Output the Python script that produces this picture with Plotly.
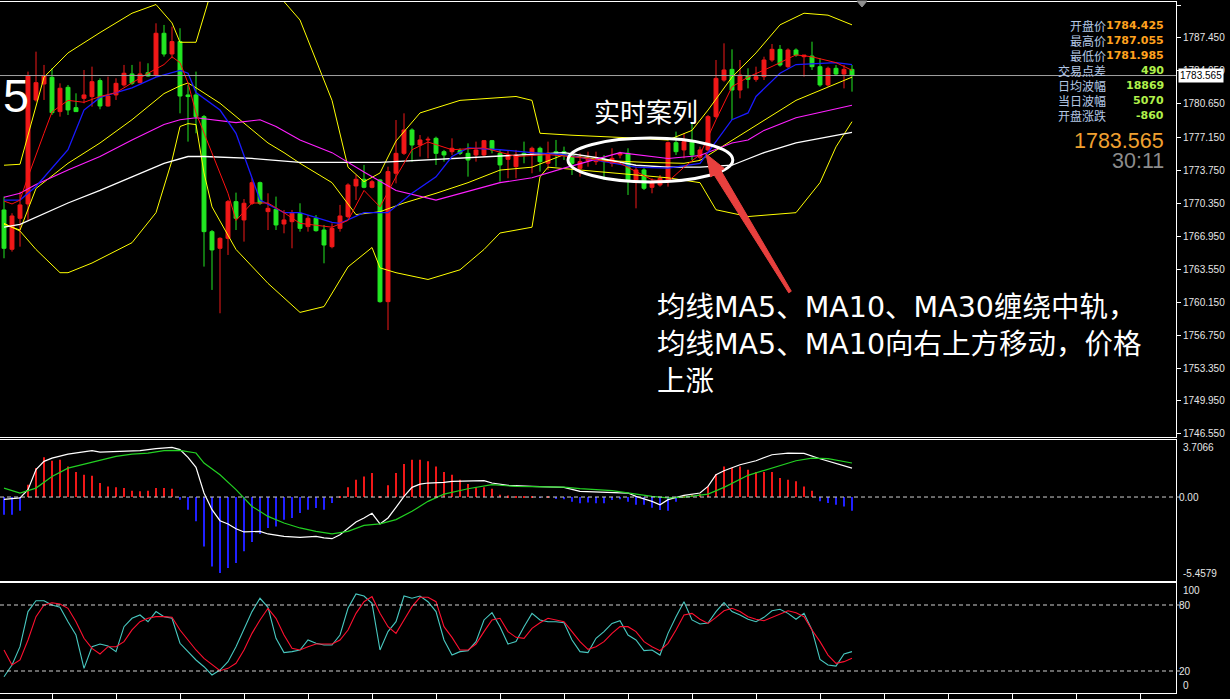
import plotly.graph_objects as go

# ---------------- DATA ----------------
open_ = [1769.68,1765.62,1768.82,1770.30,1781.04,1782.69,1783.38,1779.84,1782.35,1780.25,
         1781.21,1781.39,1783.04,1780.42,1781.56,1782.59,1783.73,1782.83,1783.86,1783.62,
         1787.93,1785.79,1787.07,1781.56,1781.56,1779.32,1767.44,1765.72,1766.75,1770.54,
         1768.65,1770.37,1772.50,1769.51,1769.75,1768.23,1768.47,1769.33,1767.96,1768.82,
         1767.61,1765.89,1767.78,1768.99,1772.16,1772.85,1772.02,1772.78,1760.21,1773.47,
         1775.53,1777.94,1776.39,1776.91,1777.08,1775.70,1775.70,1775.81,1775.53,1775.36,
         1775.36,1776.84,1775.53,1774.91,1774.15,1775.53,1775.53,1776.05,1774.50,1775.70,
         1775.70,1775.36,1773.98,1774.77,1774.67,1774.91,1774.50,1775.36,1775.53,1772.78,
         1773.81,1772.02,1772.26,1772.60,1776.63,1775.88,1776.74,1775.12,1775.88,1779.32,
         1783.10,1784.20,1782.07,1783.52,1783.17,1783.45,1785.17,1786.27,1784.48,1786.20,
         1785.51,1785.58,1784.48,1782.59,1784.31,1783.72,1784.20]
high = [1771.06,1769.34,1771.57,1783.97,1786.03,1784.66,1784.31,1782.76,1782.59,1781.73,
        1784.14,1784.48,1783.28,1783.45,1783.28,1784.66,1784.66,1785.00,1784.83,1788.96,
        1788.79,1788.62,1788.45,1782.59,1783.97,1779.49,1767.61,1766.86,1770.71,1771.47,
        1770.81,1772.95,1772.61,1771.40,1771.06,1769.68,1769.68,1770.37,1769.16,1769.16,
        1768.13,1768.30,1770.20,1772.43,1773.29,1774.33,1772.78,1772.85,1774.15,1778.97,
        1779.66,1778.11,1777.42,1777.25,1777.25,1775.88,1777.08,1776.05,1776.56,1776.74,
        1776.91,1776.91,1775.88,1775.88,1775.88,1776.74,1776.22,1776.22,1776.74,1776.91,
        1776.22,1775.70,1775.53,1775.70,1775.70,1775.36,1776.05,1775.70,1776.05,1774.15,
        1773.98,1772.95,1773.29,1776.74,1777.77,1777.60,1778.63,1776.22,1779.49,1785.17,
        1786.89,1786.27,1785.17,1784.31,1784.48,1785.51,1786.82,1786.72,1786.37,1786.37,
        1785.68,1787.06,1785.34,1784.48,1784.65,1784.65,1784.65]
low = [1764.69,1765.38,1765.89,1768.65,1780.87,1781.04,1779.49,1779.32,1779.49,1779.84,
       1780.70,1780.35,1780.08,1780.35,1781.04,1782.42,1782.59,1782.76,1783.45,1783.45,
       1785.52,1785.35,1779.66,1776.74,1777.60,1763.83,1761.42,1759.01,1765.03,1767.61,
       1766.41,1770.20,1770.20,1767.61,1767.61,1767.27,1765.72,1767.44,1767.44,1767.44,
       1764.17,1765.72,1767.44,1768.82,1770.71,1771.92,1771.92,1760.10,1757.28,1772.43,
       1775.36,1774.67,1775.19,1775.01,1774.33,1774.67,1775.36,1775.36,1773.12,1774.67,
       1775.19,1775.53,1772.60,1772.95,1772.95,1774.50,1773.47,1773.64,1773.81,1774.15,
       1774.84,1773.29,1773.12,1774.15,1774.33,1772.78,1774.15,1775.01,1771.23,1769.85,
       1771.74,1771.40,1772.09,1772.09,1775.36,1775.01,1774.84,1774.84,1775.70,1779.14,
       1782.93,1778.97,1781.21,1782.24,1782.93,1783.10,1784.98,1784.48,1784.31,1785.51,
       1783.45,1784.14,1782.41,1782.41,1783.62,1782.24,1781.90]
close = [1765.72,1769.06,1770.20,1783.52,1782.83,1783.52,1779.73,1782.25,1780.01,1779.84,
         1781.56,1782.93,1780.42,1781.45,1782.76,1783.80,1782.76,1783.73,1783.52,1787.93,
         1785.79,1787.07,1781.45,1781.39,1779.32,1767.44,1765.55,1766.75,1770.54,1768.82,
         1770.37,1772.50,1770.37,1769.85,1768.13,1768.65,1769.34,1767.78,1768.82,1767.54,
         1766.06,1767.78,1769.06,1772.26,1772.85,1772.02,1772.60,1760.21,1773.64,1775.53,
         1777.94,1776.39,1776.91,1776.98,1775.53,1775.36,1776.05,1775.53,1774.84,1775.88,
         1776.84,1775.88,1774.33,1775.36,1775.36,1775.36,1776.05,1774.67,1775.53,1775.53,
         1775.53,1774.50,1774.67,1775.01,1774.91,1774.67,1775.01,1775.53,1772.78,1773.81,
         1771.92,1772.60,1772.95,1776.63,1775.70,1776.74,1775.36,1775.88,1779.32,1783.27,
         1784.14,1782.07,1783.62,1783.17,1783.45,1785.17,1786.27,1784.65,1786.20,1785.68,
         1785.68,1784.48,1782.59,1784.31,1783.72,1784.20,1783.565]

ma5_i = [0,1,2,3,5,6,8,10,12,14,16,18,20,21,22,23,24,26,28,29,31,33,35,37,41,43,45,47,49,51,
         53,56,60,64,68,72,77,81,83,85,87,89,91,93,96,99,101,104,106]
ma5_v = [1770.6,1770.3,1770.7,1773.1,1777.6,1779.8,1781.0,1780.8,1781.4,1781.8,
         1782.8,1783.8,1784.7,1785.5,1784.9,1782.8,1779.7,1775.6,1771.4,1768.6,
         1770.4,1770.4,1769.4,1768.3,1767.9,1768.6,1771.7,1770.0,1773.1,1775.9,
         1776.7,1775.9,1776.1,1775.2,1775.4,1775.1,1774.5,1772.8,1772.6,1774.1,
         1775.4,1779.0,1782.4,1783.4,1784.5,1785.7,1785.5,1784.9,1784.1]
ma10_i = [0,2,4,8,10,12,16,19,22,23,24,27,29,31,32,35,37,41,42,45,48,51,54,56,58,62,66,70,74,79,
          83,87,91,93,94,97,99,104,106]
ma10_v = [1770.7,1770.7,1772.1,1775.9,1780.0,1781.3,1782.3,1783.4,1784.1,1783.8,
          1781.8,1780.0,1777.6,1773.1,1770.7,1769.4,1769.4,1768.4,1768.3,1769.4,
          1769.4,1771.4,1773.1,1775.2,1776.1,1775.9,1775.6,1775.4,1774.8,1774.1,
          1774.0,1774.5,1779.0,1779.7,1781.4,1783.8,1784.7,1784.9,1784.7]
ma30_i = [0,2,4,8,12,16,20,22,24,29,32,34,37,41,45,49,54,57,62,66,70,77,81,83,87,91,93,95,99,106]
ma30_v = [1771.0,1771.4,1772.3,1773.8,1775.2,1776.9,1778.5,1779.0,1779.2,1778.7,
          1779.0,1778.3,1776.9,1775.6,1773.6,1771.7,1770.7,1771.4,1772.5,1773.0,
          1774.0,1775.6,1775.2,1775.0,1775.3,1776.6,1776.9,1777.9,1779.2,1780.5]
ma60_i = [0,2,8,12,16,20,23,25,31,37,47,58,70,74,79,83,87,91,95,99,106]
ma60_v = [1767.9,1768.2,1770.4,1771.7,1773.1,1774.5,1775.2,1775.2,1775.0,1774.6,
          1774.6,1775.1,1775.6,1775.1,1774.3,1774.1,1774.1,1774.3,1775.6,1776.6,1777.7]
bb_up_i = [0,2,5,8,12,16,19,21,22,24,26,29,32,35,37,41,43,45,47,49,52,57,64,66,67,71,79,83,86,88,
           91,94,97,100,103,106]
bb_up_v = [1774.3,1774.4,1783.4,1785.9,1788.0,1790.0,1790.9,1789.0,1787.0,1787.0,
           1792.5,1795.0,1793.5,1791.2,1789.3,1781.0,1774.1,1772.6,1773.5,1776.8,
           1779.7,1781.0,1781.4,1781.0,1777.6,1777.4,1777.1,1776.9,1777.9,1780.0,
           1783.4,1785.9,1788.8,1790.0,1789.8,1788.8]
bb_mid_i = [0,2,4,8,12,16,20,22,23,24,27,29,31,33,35,37,41,44,47,50,54,58,62,66,70,75,80,85,87,93,
            99,106]
bb_mid_v = [1768.2,1767.6,1771.9,1774.5,1776.6,1779.0,1781.7,1782.5,1782.8,1782.3,
            1780.7,1779.3,1777.9,1776.6,1775.6,1774.5,1772.5,1769.2,1769.5,1770.4,
            1771.4,1772.5,1773.8,1774.1,1775.4,1774.8,1774.6,1774.5,1774.8,1777.9,
            1781.0,1783.4]
bb_low_i = [0,2,4,7,8,11,16,19,21,22,23,24,25,26,29,33,37,40,43,46,47,49,53,57,60,62,66,67,68,75,
            83,87,89,93,99,102,104,106]
bb_low_v = [1768.3,1767.5,1765.6,1763.2,1763.2,1764.2,1766.3,1769.4,1774.8,1778.3,
            1778.6,1778.5,1773.5,1770.0,1765.6,1762.1,1759.1,1759.7,1763.8,1765.8,
            1763.7,1763.2,1762.5,1763.5,1765.6,1767.3,1767.9,1773.1,1774.1,1773.6,
            1773.0,1772.5,1769.7,1769.0,1769.4,1772.5,1776.2,1778.8]

macd_hist = [-1.15,-1.15,-0.89,0.80,1.88,2.58,2.36,2.43,1.99,1.62,
             1.45,1.39,0.91,0.69,0.63,0.58,0.41,0.37,0.41,0.58,
             0.58,0.54,-0.17,-0.82,-1.58,-3.21,-4.51,-4.94,-4.61,-4.29,
             -3.53,-2.92,-2.40,-2.01,-1.91,-1.47,-1.36,-1.04,-0.82,-0.71,
             -0.82,-0.39,0.05,0.63,1.13,1.34,1.56,0.02,0.76,1.56,
             2.14,2.43,2.43,2.32,1.99,1.62,1.45,1.13,0.84,0.63,
             0.63,0.54,0.15,0.10,0.05,0.05,0.02,-0.05,0.02,-0.10,
             -0.15,-0.30,-0.40,-0.35,-0.40,-0.40,-0.20,-0.15,-0.30,-0.50,
             -0.50,-0.70,-0.85,-0.90,-0.30,0.10,0.15,0.20,0.69,1.49,
             1.99,1.88,1.99,1.78,1.62,1.62,1.62,1.23,1.13,1.02,
             0.69,0.41,-0.28,-0.39,-0.50,-0.61,-0.89]
dif_i = [0,2,3,4,5,6,8,11,12,15,17,19,21,22,23,24,25,26,27,28,29,30,32,33,35,37,39,40,41,42,
         43,44,45,46,47,48,49,50,51,52,53,55,56,58,60,61,63,66,70,72,75,78,79,81,82,83,85,87,88,89,
         90,92,94,96,98,100,102,104,106]
dif_v = [-0.15,-0.06,0.48,1.78,2.32,2.53,2.79,3.01,2.92,2.97,
         3.01,3.14,3.23,3.08,2.58,1.93,0.26,-0.82,-1.54,-1.75,
         -2.06,-2.27,-2.23,-2.40,-2.56,-2.62,-2.56,-2.66,-2.71,-2.45,
         -2.01,-1.62,-1.36,-1.06,-1.75,-1.36,-0.67,0.04,0.63,0.84,
         0.91,0.95,1.02,1.02,1.06,0.91,0.76,0.69,0.63,0.37,
         0.32,0.26,0.04,-0.28,-0.50,-0.17,0.11,0.26,0.69,1.45,
         1.71,2.10,2.36,2.75,2.86,2.84,2.49,2.21,1.88]
dea_i = [0,2,4,6,8,10,12,14,16,18,20,22,24,25,27,29,31,33,35,37,39,41,43,45,47,49,51,53,55,56,
         58,61,64,70,72,76,78,81,83,85,88,90,93,96,99,101,103,106]
dea_v = [0.58,0.26,0.58,1.34,1.88,2.14,2.43,2.64,2.79,2.86,
         3.01,3.03,2.86,2.21,1.45,0.48,-0.61,-1.26,-1.69,-2.01,
         -2.23,-2.40,-2.23,-1.84,-1.75,-1.47,-0.93,-0.28,0.19,0.32,
         0.54,0.80,0.69,0.65,0.54,0.41,0.26,0.04,-0.06,0.0,
         0.19,0.63,1.41,1.88,2.36,2.53,2.49,2.21]

stoch_k = [14.8,25.5,42.1,74.0,83.9,83.9,80.0,77.9,64.8,52.7,
           22.4,42.1,44.5,42.7,37.6,60.3,67.9,70.9,64.8,74.0,
           69.4,67.9,45.2,37.6,30.0,23.9,16.4,20.9,28.5,42.1,
           57.3,74.0,86.1,77.9,49.7,36.7,37.6,39.1,48.2,45.2,
           43.6,43.6,52.7,77.0,90.0,88.2,81.5,39.1,55.8,64.8,
           88.2,86.1,88.2,83.0,74.0,48.2,34.5,37.6,38.5,46.7,
           66.4,73.0,60.3,44.5,46.7,60.3,72.4,66.4,64.8,64.8,
           63.9,48.2,37.6,36.7,49.7,55.8,63.3,65.7,52.7,48.2,
           38.5,39.1,34.5,54.2,69.4,83.0,66.4,62.7,63.6,74.0,
           82.1,74.0,70.9,67.0,64.8,68.8,74.8,76.1,72.4,67.0,
           72.4,57.3,30.6,25.5,24.5,35.5,37.6]
stoch_d = [39.1,25.5,30.0,48.2,69.4,80.0,82.1,80.9,77.0,64.8,
           49.7,40.6,35.5,42.1,42.1,46.7,57.3,64.8,67.9,69.4,
           69.4,68.8,57.3,48.2,39.1,31.5,25.5,20.3,22.4,27.0,
           39.1,54.2,66.4,77.0,67.9,52.7,40.6,39.1,42.1,44.5,
           44.5,44.5,48.2,57.3,72.4,83.0,87.6,72.4,60.3,54.2,
           66.4,78.5,87.0,87.0,83.0,60.3,50.6,39.1,39.1,44.5,
           55.8,66.4,67.9,55.8,50.6,49.7,58.8,63.9,67.9,66.4,
           64.8,55.8,46.7,39.7,42.1,46.7,54.2,60.3,60.3,55.8,
           46.7,42.1,38.5,45.2,57.3,70.9,72.4,67.0,63.3,68.8,
           74.8,77.0,74.0,69.4,67.0,65.7,68.8,72.4,74.8,73.0,
           69.4,57.3,46.7,34.5,27.0,28.5,31.5]

price_ticks = [1790.850,1787.450,1784.050,1780.650,1777.150,1773.750,1770.350,
               1766.950,1763.550,1760.150,1756.750,1753.350,1749.950,1746.550]
price_tick_text = ["1790.850","1787.450","1784.050","1780.650","1777.150","1773.750","1770.350",
                   "1766.950","1763.550","1760.150","1756.750","1753.350","1749.950","1746.550"]
last_price = 1783.565
macd_top, macd_bottom = 3.7066, -5.4579

info_labels = ["开盘价","最高价","最低价","交易点差","日均波幅","当日波幅","开盘涨跌"]
info_values = ["1784.425","1787.055","1781.985","490","18869","5070","-860"]
big_price_text = "1783.565"
timer_text = "30:11"
title_tag = "实时案列"
note_text = "均线MA5、MA10、MA30缠绕中轨，<br>均线MA5、MA10向右上方移动，价格<br>上涨"

# ---------------- LAYOUT HELPERS ----------------
W, H = 1230, 699
ML, MR, MT, MB = 0, 54, 2, 6
PW, PH = W - ML - MR, H - MT - MB
def pxx(x):
    return (x - ML) / PW
def pxy(y):
    return (H - MB - y) / PH

RED = '#f01818'
GREEN = '#22e622'
CJK = 'Noto Sans CJK SC'

n = len(close)
xs = list(range(n))

fig = go.Figure()
fig.add_trace(go.Candlestick(
    x=xs, open=open_, high=high, low=low, close=close,
    increasing=dict(line=dict(color=RED, width=1), fillcolor=RED),
    decreasing=dict(line=dict(color=GREEN, width=1), fillcolor=GREEN),
    whiskerwidth=0, xaxis='x', yaxis='y', showlegend=False, hoverinfo='skip'))

def add_line(xv, yv, color, width, xa='x', ya='y'):
    fig.add_trace(go.Scatter(x=xv, y=yv, mode='lines', line=dict(color=color, width=width),
                             xaxis=xa, yaxis=ya, showlegend=False, hoverinfo='skip'))

add_line(bb_up_i, bb_up_v, '#ffff00', 1)
add_line(bb_mid_i, bb_mid_v, '#ffff00', 1)
add_line(bb_low_i, bb_low_v, '#ffff00', 1)
add_line(ma60_i, ma60_v, '#ffffff', 1.3)
add_line(ma30_i, ma30_v, '#ff20ff', 1.1)
add_line(ma10_i, ma10_v, '#1a1aff', 1.3)
add_line(ma5_i, ma5_v, '#ff1010', 1)

# MACD
fig.add_trace(go.Bar(x=xs, y=macd_hist, width=0.22,
                     marker=dict(color=[RED if v >= 0 else '#2020ff' for v in macd_hist], line=dict(width=0)),
                     xaxis='x2', yaxis='y2', showlegend=False, hoverinfo='skip'))
add_line(dif_i, dif_v, '#ffffff', 1.2, 'x2', 'y2')
add_line(dea_i, dea_v, '#22d022', 1.2, 'x2', 'y2')

# Stochastic
add_line(xs, stoch_k, '#48c8c0', 1.1, 'x3', 'y3')
add_line(xs, stoch_d, '#ff1030', 1.1, 'x3', 'y3')

axis_common = dict(showgrid=False, zeroline=False, showline=True, linecolor='#ffffff',
                   linewidth=1, mirror=True, range=[-0.5, 146.5], automargin=False)
yaxis_common = dict(showgrid=False, zeroline=False, showline=True, linecolor='#ffffff',
                    side='right', automargin=False)
tickfont = dict(family='Liberation Sans', size=10, color='#e6e6e6')

d_main = [pxy(437), 1.0]
d_macd = [pxy(581), pxy(440)]
d_sto = [0.0, pxy(583)]

fig.update_layout(
    width=W, height=H, margin=dict(l=ML, r=MR, t=MT, b=MB, autoexpand=False),
    paper_bgcolor='#000000', plot_bgcolor='#000000', showlegend=False,
    font=dict(family='Liberation Sans', color='#ffffff'),
    xaxis=dict(domain=[0, 1], anchor='y', showticklabels=False, ticks='',
               rangeslider=dict(visible=False), **axis_common),
    xaxis2=dict(domain=[0, 1], anchor='y2', matches='x', showticklabels=False, ticks='', **axis_common),
    xaxis3=dict(domain=[0, 1], anchor='y3', matches='x', showticklabels=False, ticks='outside',
                tickvals=list(range(6, 147, 8)), ticklen=5, tickcolor='#ffffff', **axis_common),
    yaxis=dict(domain=d_main, range=[1746.23, 1791.16], anchor='x',
               tickvals=price_ticks, ticktext=price_tick_text, ticks='outside', ticklen=4,
               tickcolor='#ffffff', tickfont=tickfont, **yaxis_common),
    yaxis2=dict(domain=d_macd, range=[macd_bottom, macd_top], anchor='x2',
                tickvals=[0], ticktext=['0.00'], ticks='', tickfont=tickfont, **yaxis_common),
    yaxis3=dict(domain=d_sto, range=[0, 100], anchor='x3',
                tickvals=[20, 80], ticktext=['20', '80'], ticks='', tickfont=tickfont, **yaxis_common),
)

shapes = []
# top border of the main window
shapes.append(dict(type='line', xref='paper', yref='paper', x0=0, x1=1, y0=pxy(1.5), y1=pxy(1.5),
                   line=dict(color='#ffffff', width=1)))
# dashed level lines
shapes.append(dict(type='line', xref='paper', yref='y2', x0=0, x1=pxx(1182), y0=0, y1=0,
                   line=dict(color='#d0d0d0', width=1, dash='4px,3px')))
for lvl in (20, 80):
    shapes.append(dict(type='line', xref='paper', yref='y3', x0=0, x1=pxx(1182), y0=lvl, y1=lvl,
                       line=dict(color='#d0d0d0', width=1, dash='4px,3px')))
# current price line
shapes.append(dict(type='line', xref='paper', yref='y', x0=0, x1=1, y0=last_price, y1=last_price,
                   line=dict(color='#a0a0a0', width=1)))
# ellipse
shapes.append(dict(type='circle', xref='x', yref='y', x0=70.5, x1=91.1, y0=1772.57, y1=1777.11,
                   line=dict(color='#ffffff', width=3)))
# arrow (pixel polygon -> paper)
arrow_pts = [(706, 154), (724.3, 168.5), (720.9, 170.6), (791.3, 291.2), (788.7, 292.8),
             (714.1, 174.8), (710.7, 176.9)]
path = 'M ' + ' L '.join(f'{pxx(a):.5f},{pxy(b):.5f}' for a, b in arrow_pts) + ' Z'
shapes.append(dict(type='path', xref='paper', yref='paper', path=path,
                   fillcolor='#e8403e', line=dict(color='#e8403e', width=1)))
# shift marker triangle at top
tri = [(857, 1), (867, 1), (862, 7)]
path2 = 'M ' + ' L '.join(f'{pxx(a):.5f},{pxy(b):.5f}' for a, b in tri) + ' Z'
shapes.append(dict(type='path', xref='paper', yref='paper', path=path2,
                   fillcolor='#909090', line=dict(color='#909090', width=1)))
fig.update_layout(shapes=shapes)

ann = []
# price box on axis
ann.append(dict(x=1, xref='paper', xanchor='left', xshift=2, y=last_price, yref='y', yanchor='middle',
                text=f'{last_price:.3f}', showarrow=False, bgcolor='#ffffff', borderpad=1,
                font=dict(family='Liberation Sans', size=10, color='#000000')))
# edge labels for sub panels
edge = [(macd_top, 'y2', 'top', '3.7066'), (macd_bottom, 'y2', 'bottom', '-5.4579'),
        (100, 'y3', 'top', '100'), (0, 'y3', 'bottom', '0')]
for yv, yr, anc, txt in edge:
    ann.append(dict(x=1, xref='paper', xanchor='left', xshift=5, y=yv, yref=yr, yanchor=anc,
                    text=txt, showarrow=False, font=tickfont))
# info panel
row_y = [25, 40, 55, 70, 85.5, 101, 116]
for k, (lab, val) in enumerate(zip(info_labels, info_values)):
    ann.append(dict(x=pxx(1108), xref='paper', xanchor='right', y=pxy(row_y[k]), yref='paper',
                    yanchor='middle', text=lab, showarrow=False,
                    font=dict(family=CJK, size=12, color='#b4c8e6')))
    col = '#ffa21e' if k < 3 else '#b0f04a'
    ann.append(dict(x=pxx(1166), xref='paper', xanchor='right', y=pxy(row_y[k]), yref='paper',
                    yanchor='middle', text=f'<b>{val}</b>', showarrow=False,
                    font=dict(family='DejaVu Sans', size=11, color=col)))
ann.append(dict(x=pxx(1166), xref='paper', xanchor='right', y=pxy(141), yref='paper', yanchor='middle',
                text=big_price_text, showarrow=False,
                font=dict(family='Liberation Sans', size=21.5, color='#f0a030')))
ann.append(dict(x=pxx(1166), xref='paper', xanchor='right', y=pxy(161), yref='paper', yanchor='middle',
                text=timer_text, showarrow=False,
                font=dict(family='Liberation Sans', size=21.5, color='#8c8c8c')))
# big "5"
ann.append(dict(x=pxx(1), xref='paper', xanchor='left', y=pxy(95), yref='paper', yanchor='middle',
                text='5', showarrow=False, font=dict(family='Liberation Sans', size=47, color='#ffffff')))
# chart notes
ann.append(dict(x=pxx(646), xref='paper', xanchor='center', y=pxy(110), yref='paper', yanchor='middle',
                text=title_tag, showarrow=False, font=dict(family=CJK, size=26, color='#ffffff')))
ann.append(dict(x=pxx(655), xref='paper', xanchor='left', y=pxy(289), yref='paper', yanchor='top',
                text=note_text, showarrow=False, align='left',
                font=dict(family='DejaVu Sans, ' + CJK, size=28.5, color='#ffffff')))
fig.update_layout(annotations=ann)

fig.write_html("out.html", config={'displayModeBar': False},
               post_script="document.body.style.margin='0';document.body.style.padding='0';"
                           "document.body.style.background='#000';document.body.style.overflow='hidden';")
